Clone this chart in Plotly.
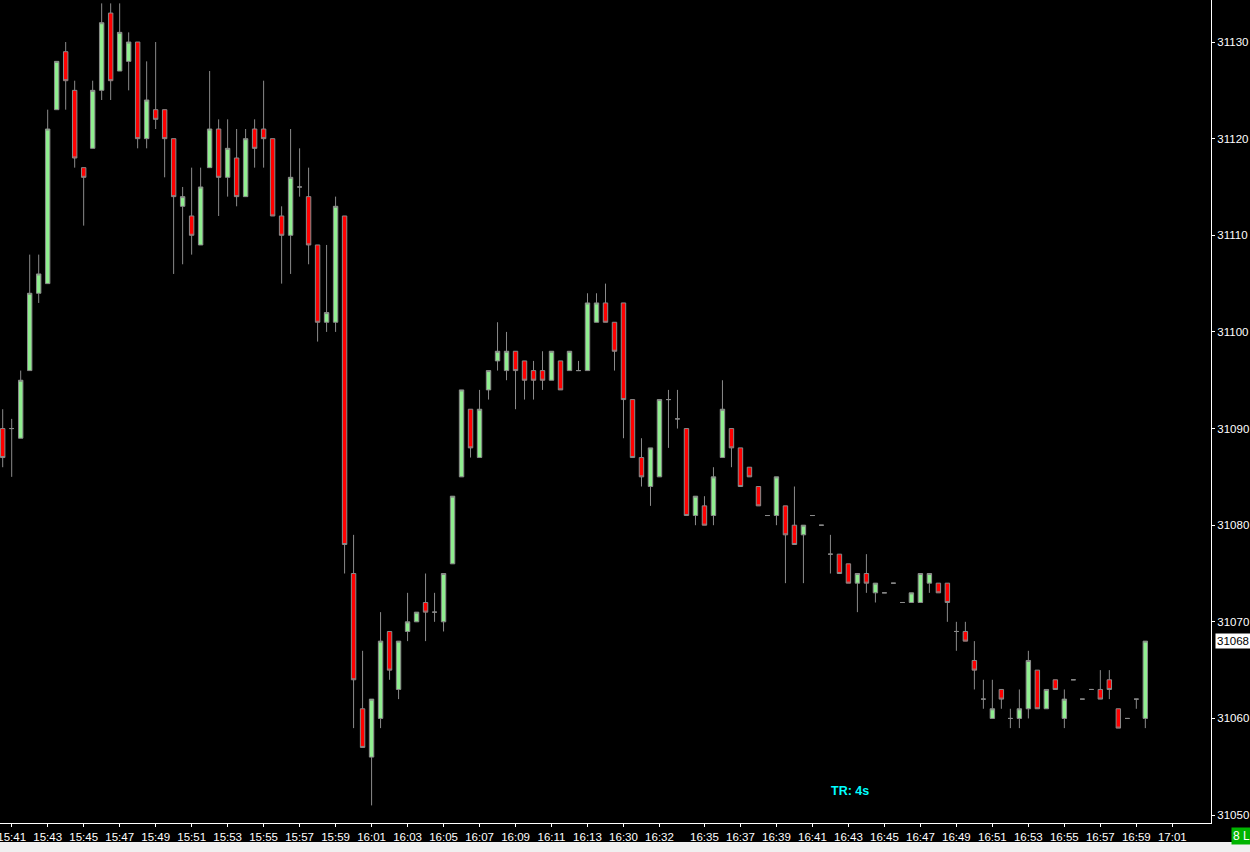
"""
Intraday candlestick monitor - 30s bars, dark theme
"""

import plotly.graph_objects as go

# OHLC per bar (30 second bars, oldest first)
opens = [
    31090, 31090, 31089, 31096, 31104, 31105, 31123, 31129, 31125, 31117,
    31119, 31125, 31133, 31127, 31128, 31130, 31120, 31123, 31123, 31120,
    31113, 31112, 31109, 31117, 31121, 31116, 31118, 31114, 31121, 31121,
    31120, 31112, 31110, 31115, 31114, 31109, 31101, 31101, 31112, 31075,
    31061, 31056, 31060, 31069, 31063, 31069, 31070, 31072, 31071, 31070,
    31076, 31085, 31092, 31087, 31094, 31097, 31096, 31098, 31097, 31096,
    31096, 31095, 31097, 31096, 31096, 31096, 31101, 31103, 31101, 31103,
    31093, 31087, 31084, 31085, 31093, 31091, 31090, 31081, 31082, 31081,
    31087, 31090, 31088, 31086, 31084, 31081, 31081, 31082, 31080, 31079,
    31081, 31080, 31077, 31077, 31076, 31074, 31075, 31073, 31073, 31074,
    31072, 31072, 31072, 31074, 31074, 31074, 31069, 31069, 31066, 31062,
    31060, 31063, 31060, 31060, 31061, 31065, 31061, 31064, 31060, 31064,
    31062, 31063, 31063, 31064, 31061, 31060, 31062, 31060,
]
highs = [
    31092, 31091, 31096, 31108, 31108, 31123, 31128, 31130, 31126, 31117,
    31126, 31134, 31134, 31134, 31131, 31130, 31128, 31130, 31123, 31120,
    31115, 31117, 31117, 31127, 31122, 31122, 31121, 31121, 31122, 31126,
    31120, 31113, 31121, 31119, 31117, 31109, 31109, 31114, 31112, 31079,
    31067, 31062, 31071, 31069, 31068, 31073, 31071, 31075, 31073, 31075,
    31083, 31094, 31092, 31094, 31096, 31101, 31100, 31098, 31097, 31097,
    31098, 31098, 31097, 31098, 31097, 31104, 31104, 31105, 31101, 31103,
    31093, 31089, 31088, 31093, 31094, 31094, 31090, 31083, 31083, 31086,
    31095, 31090, 31088, 31086, 31084, 31081, 31085, 31082, 31084, 31080,
    31081, 31080, 31079, 31077, 31076, 31075, 31077, 31074, 31073, 31074,
    31072, 31073, 31075, 31075, 31074, 31074, 31070, 31070, 31068, 31064,
    31064, 31063, 31061, 31063, 31067, 31065, 31063, 31064, 31063, 31064,
    31062, 31063, 31065, 31065, 31061, 31060, 31062, 31068,
]
lows = [
    31086, 31085, 31089, 31096, 31103, 31105, 31123, 31123, 31117, 31111,
    31119, 31124, 31124, 31127, 31125, 31119, 31119, 31121, 31116, 31106,
    31107, 31108, 31109, 31117, 31112, 31114, 31113, 31114, 31117, 31117,
    31112, 31105, 31106, 31114, 31107, 31099, 31100, 31100, 31075, 31059,
    31057, 31051, 31059, 31064, 31062, 31068, 31070, 31068, 31070, 31069,
    31076, 31085, 31087, 31087, 31093, 31096, 31095, 31092, 31093, 31093,
    31094, 31095, 31094, 31096, 31096, 31096, 31101, 31101, 31096, 31089,
    31087, 31084, 31082, 31085, 31088, 31090, 31081, 31080, 31080, 31080,
    31087, 31086, 31084, 31085, 31082, 31081, 31080, 31074, 31078, 31074,
    31081, 31080, 31075, 31075, 31074, 31071, 31073, 31072, 31073, 31074,
    31072, 31072, 31072, 31073, 31073, 31070, 31067, 31068, 31063, 31061,
    31060, 31061, 31059, 31059, 31060, 31061, 31061, 31063, 31059, 31064,
    31062, 31063, 31062, 31062, 31059, 31060, 31061, 31059,
]
closes = [
    31087, 31090, 31095, 31104, 31106, 31121, 31128, 31126, 31118, 31116,
    31125, 31132, 31126, 31131, 31130, 31120, 31124, 31122, 31120, 31114,
    31114, 31110, 31115, 31121, 31116, 31119, 31114, 31120, 31119, 31120,
    31112, 31110, 31116, 31115, 31109, 31101, 31102, 31113, 31078, 31064,
    31057, 31062, 31068, 31065, 31068, 31070, 31071, 31071, 31071, 31075,
    31083, 31094, 31088, 31092, 31096, 31098, 31098, 31096, 31095, 31095,
    31095, 31098, 31094, 31098, 31096, 31103, 31103, 31101, 31098, 31093,
    31087, 31085, 31088, 31093, 31093, 31091, 31081, 31083, 31080, 31085,
    31092, 31088, 31084, 31085, 31082, 31081, 31085, 31079, 31078, 31080,
    31081, 31080, 31077, 31075, 31074, 31075, 31074, 31074, 31073, 31074,
    31072, 31073, 31075, 31075, 31073, 31072, 31069, 31068, 31065, 31062,
    31061, 31062, 31060, 31061, 31066, 31061, 31063, 31063, 31062, 31064,
    31062, 31063, 31062, 31063, 31059, 31060, 31062, 31068,
]

# time axis labels (bar index -> label)
tick_pos = [1, 5, 9, 13, 17, 21, 25, 29, 33, 37, 41, 45, 49, 53, 57, 61, 65,
            69, 73, 78, 82, 86, 90, 94, 98, 102, 106, 110, 114, 118, 122, 126, 130]
tick_labels = ['15:41', '15:43', '15:45', '15:47', '15:49', '15:51', '15:53',
               '15:55', '15:57', '15:59', '16:01', '16:03', '16:05', '16:07',
               '16:09', '16:11', '16:13', '16:30', '16:32', '16:35', '16:37',
               '16:39', '16:41', '16:43', '16:45', '16:47', '16:49', '16:51',
               '16:53', '16:55', '16:57', '16:59', '17:01']

price_ticks = [31050, 31060, 31070, 31080, 31090, 31100, 31110, 31120, 31130]
last_price = closes[-1]

FONT = 'Liberation Sans, Arial, sans-serif'
AXIS_FONT = dict(family=FONT, size=11.5, color='#ffffff')

bars = list(range(len(opens)))

fig = go.Figure()

fig.add_trace(go.Candlestick(
    x=bars,
    open=opens,
    high=highs,
    low=lows,
    close=closes,
    increasing=dict(line=dict(color='#8a8a8a', width=1), fillcolor='#90ee90'),
    decreasing=dict(line=dict(color='#8a8a8a', width=1), fillcolor='#ff0000'),
    whiskerwidth=0,
    hoverinfo='skip',
    showlegend=False,
))

# last price marker on the price scale
fig.add_annotation(
    x=1.003, xref='paper', xanchor='left',
    y=last_price, yref='y', yanchor='middle',
    text=str(last_price), showarrow=False,
    bgcolor='#ffffff', borderpad=1,
    font=dict(family=FONT, size=11.5, color='#000000'),
)

# timer readout
fig.add_annotation(
    x=0.702, xref='paper', xanchor='center',
    y=0.039, yref='paper', yanchor='middle',
    text='<b>TR: 4s</b>', showarrow=False,
    font=dict(family=FONT, size=12.5, color='#00ffff'),
)

# connection badge in the corner
fig.add_annotation(
    x=1.0165, xref='paper', xanchor='left',
    y=-0.005, yref='paper', yanchor='top',
    text='8 L', showarrow=False,
    bgcolor='#00b400', borderpad=1,
    font=dict(family=FONT, size=12, color='#ffffff'),
)

# status strip at the very bottom of the window
fig.add_shape(
    type='rect', xref='paper', yref='paper',
    x0=-0.001, x1=1.033, y0=-0.0232, y1=-0.0364,
    fillcolor='#f0f0f0', line=dict(width=0), layer='above',
)

fig.update_layout(
    width=1250, height=852,
    margin=dict(l=0, r=39, t=0, b=29, autoexpand=False),
    paper_bgcolor='#000000',
    plot_bgcolor='#000000',
    showlegend=False,
    hovermode=False,
)

fig.update_xaxes(
    range=[-0.3, 134.3],
    rangeslider_visible=False,
    tickmode='array', tickvals=tick_pos, ticktext=tick_labels,
    ticklabeloverflow='allow',
    showgrid=False, zeroline=False,
    showline=True, linecolor='#ffffff', linewidth=1,
    ticks='outside', ticklen=3, tickcolor='#ffffff',
    tickfont=AXIS_FONT,
)

fig.update_yaxes(
    side='right',
    range=[31049.18, 31134.35],
    tickmode='array', tickvals=price_ticks, tickformat='d',
    showgrid=False, zeroline=False,
    showline=True, linecolor='#ffffff', linewidth=1,
    ticks='outside', ticklen=3, tickcolor='#ffffff',
    tickfont=AXIS_FONT,
)

# drop the default page margin so the chart fills the window
fig.write_html(
    "out.html",
    config={'displayModeBar': False},
    post_script="document.body.style.margin='0';document.body.style.overflow='hidden';",
)
